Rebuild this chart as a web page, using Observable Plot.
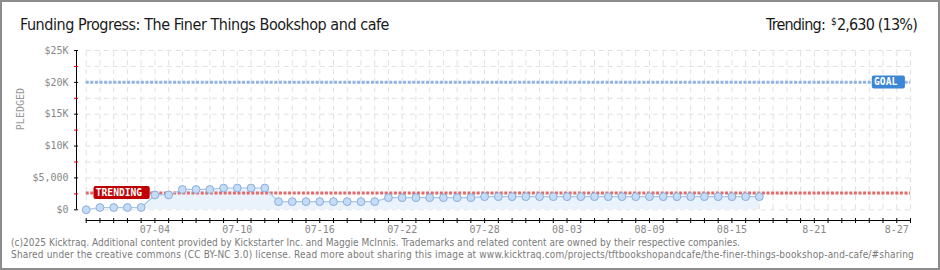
<!DOCTYPE html>
<html><head><meta charset="utf-8">
<script src="https://cdn.jsdelivr.net/npm/d3@7"></script>
<script src="https://cdn.jsdelivr.net/npm/@observablehq/plot@0.6"></script>
<style>
html,body{margin:0;padding:0;background:#fff;}
#wrap{position:relative;width:940px;height:270px;overflow:hidden;background:#fff;}
#border{position:absolute;left:0;top:0;width:940px;height:270px;box-sizing:border-box;border:2px solid #8c8c8c;pointer-events:none;}
.hdr{position:absolute;top:14.5px;line-height:20px;font-size:16px;font-family:"Liberation Sans Narrow","DejaVu Sans Condensed",sans-serif;color:#1a1a1a;white-space:nowrap;}
#title{left:20px;}
#trend{right:23px;}
#trend .cur{font-size:10px;position:relative;top:-5px;margin-left:6px;margin-right:1px;}
#chart{position:absolute;left:0;top:40px;}
.foot{position:absolute;left:11px;line-height:12px;font-size:10px;font-family:"DejaVu Sans Condensed","DejaVu Sans",sans-serif;color:#7a7a7a;white-space:nowrap;}
#f1{top:237px;}
#f2{top:249px;}
</style></head>
<body>
<div id="wrap">
  <div id="title" class="hdr"></div>
  <div id="trend" class="hdr"></div>
  <div id="chart"></div>
  <div id="f1" class="foot"></div>
  <div id="f2" class="foot"></div>
  <div id="border"></div>
</div>
<script>
// ---------- data ----------
const titleText = "Funding Progress: The Finer Things Bookshop and cafe";
const footer1 = "(c)2025 Kicktraq. Additional content provided by Kickstarter Inc. and Maggie McInnis. Trademarks and related content are owned by their respective companies.";
const footer2 = "Shared under the creative commons (CC BY-NC 3.0) license. Read more about sharing this image at www.kicktraq.com/projects/tftbookshopandcafe/the-finer-things-bookshop-and-cafe/#sharing";

const dates = [
  "2025-06-29","2025-06-30","2025-07-01","2025-07-02","2025-07-03","2025-07-04","2025-07-05",
  "2025-07-06","2025-07-07","2025-07-08","2025-07-09","2025-07-10","2025-07-11","2025-07-12",
  "2025-07-13","2025-07-14","2025-07-15","2025-07-16","2025-07-17","2025-07-18","2025-07-19",
  "2025-07-20","2025-07-21","2025-07-22","2025-07-23","2025-07-24","2025-07-25","2025-07-26",
  "2025-07-27","2025-07-28","2025-07-29","2025-07-30","2025-07-31","2025-08-01","2025-08-02",
  "2025-08-03","2025-08-04","2025-08-05","2025-08-06","2025-08-07","2025-08-08","2025-08-09",
  "2025-08-10","2025-08-11","2025-08-12","2025-08-13","2025-08-14","2025-08-15","2025-08-16",
  "2025-08-17"
];
const pledged = [
  0, 360, 360, 360, 360, 2330, 2330,
  3190, 3190, 3190, 3420, 3420, 3420, 3420,
  1280, 1280, 1280, 1280, 1280, 1280, 1280,
  1280, 1900, 1900, 1900, 1900, 1900, 1900,
  1900, 2060, 2060, 2060, 2060, 2060, 2060,
  2060, 2060, 2060, 2060, 2060, 2060, 2060,
  2060, 2060, 2060, 2060, 2060, 2060, 2060,
  2060
];
const goal = 20000;
const trending = 2630;

const axisStart = "2025-06-29";
const axisEnd = "2025-08-28";
const labelDates = ["2025-07-04","2025-07-10","2025-07-16","2025-07-22","2025-07-28","2025-08-03","2025-08-09","2025-08-15","2025-08-21","2025-08-27"];
const labelTexts = ["07-04","07-10","07-16","07-22","07-28","08-03","08-09","08-15","8-21","8-27"];
const yTicks = [0, 5000, 10000, 15000, 20000, 25000];
const yTickLabels = ["$0", "$5,000", "$10K", "$15K", "$20K", "$25K"];
const yMinor = [2500, 7500, 12500, 17500, 22500];
const yGrid = [0, 2500, 5000, 7500, 10000, 12500, 15000, 17500, 20000, 22500, 25000];
const yLabel = "PLEDGED";

// ---------- layout constants ----------
const DAY = 864e5;
const parse = d3.utcParse("%Y-%m-%d");
const day0 = parse(axisStart), dayEnd = parse(axisEnd);
const xLeftPad = 0.706;           // days between y-axis line and first day
const yMin = -1680;               // room below $0 for the x axis
const data = dates.map((d, i) => ({date: parse(d), value: pledged[i]}));
const tickDays = d3.utcDay.range(day0, new Date(+dayEnd + 1));
const labelMap = new Map(labelDates.map((d, i) => [+parse(d), labelTexts[i]]));
const yLabelMap = new Map(yTicks.map((v, i) => [v, yTickLabels[i]]));

document.getElementById("title").textContent = titleText;
document.getElementById("trend").innerHTML =
  `Trending:<span class="cur">$</span>${d3.format(",")(trending)} (${Math.round(trending / goal * 100)}%)`;
document.getElementById("f1").textContent = footer1;
document.getElementById("f2").textContent = footer2;

const mono = "'DejaVu Sans Mono', monospace";
const gridStyle = {stroke: "#e0e0e0", strokeDasharray: "5,4", strokeWidth: 1};

const chart = Plot.plot({
  width: 940, height: 195,
  marginLeft: 76, marginRight: 30, marginTop: 10, marginBottom: 15,
  x: {type: "utc", domain: [new Date(+day0 - xLeftPad * DAY), dayEnd]},
  y: {domain: [yMin, 25000]},
  style: {fontFamily: mono, fontSize: "10px", background: "transparent", color: "#888"},
  marks: [
    Plot.ruleY(yGrid, {y: d => d, x1: () => day0, x2: () => dayEnd, ...gridStyle}),
    Plot.ruleX(tickDays, {x: d => d, y1: 0, y2: 25000, ...gridStyle}),
    Plot.areaY(data, {x: "date", y: "value", fill: "#eaf2fc"}),
    Plot.ruleY([goal], {y: d => d, x1: () => day0, x2: () => dayEnd, stroke: "#8fb4e4", strokeWidth: 3, strokeDasharray: "3,1.6"}),
    Plot.ruleY([trending], {y: d => d, x1: () => day0, x2: () => dayEnd, stroke: "#e06a6a", strokeWidth: 3, strokeDasharray: "3,1.6"}),
    Plot.lineY(data, {x: "date", y: "value", stroke: "#a9c7ec", strokeWidth: 1.2}),
    Plot.dot(data, {x: "date", y: "value", r: 3.9, fill: "#c4dcf6", stroke: "#8cadd9", strokeWidth: 1}),
    // axes
    Plot.ruleX([new Date(+day0 - xLeftPad * DAY)], {x: d => d, y1: 0, y2: 25000, stroke: "#000"}),
    Plot.ruleY([yMin], {y: d => d, x1: () => day0, x2: () => dayEnd, stroke: "#000"}),
    Plot.axisX(tickDays, {tickSize: 5, dy: -2, tickFormat: () => "", stroke: "#000", label: null}),
    Plot.axisX(labelDates.map(parse), {tickSize: 0, tickPadding: 5, tickFormat: d => labelMap.get(+d), fill: "#888", label: null}),
    Plot.axisY(yTicks, {anchor: "left", tickSize: 4, dx: 2, tickPadding: 6, stroke: "#000", fill: "#888", tickFormat: d => yLabelMap.get(d), label: null}),
    Plot.axisY(yMinor, {anchor: "left", tickSize: 4, dx: 2, stroke: "#e00000", tickFormat: () => "", label: null}),
    Plot.text([12500], {y: d => d, frameAnchor: "left", dx: -56, rotate: -90, text: () => yLabel, fill: "#999", fontSize: 10}),
    // badges
    Plot.text([trending], {x: () => day0, y: d => d, text: () => "TRENDING", textAnchor: "start", dx: 9.6, fill: "#fff", fontWeight: "bold", fontSize: 9.6}),
    Plot.text([goal], {x: () => dayEnd, y: d => d, text: () => "GOAL", textAnchor: "end", dx: -13.3, fill: "#fff", fontWeight: "bold", fontSize: 9.6})
  ]
});
document.getElementById("chart").appendChild(chart);

// badge backgrounds sized to their text
const badgeColor = {"TRENDING": "#c00000", "GOAL": "#3c86d6"};
chart.querySelectorAll("text").forEach(t => {
  const c = badgeColor[t.textContent];
  if (!c) return;
  const b = t.getBBox();
  const r = document.createElementNS("http://www.w3.org/2000/svg", "rect");
  const cy = b.y + b.height / 2;
  r.setAttribute("x", b.x - 2.3);
  r.setAttribute("width", b.width + 2.3 + 7.5);
  r.setAttribute("y", cy - 6.5);
  r.setAttribute("height", 13);
  r.setAttribute("rx", 2);
  r.setAttribute("fill", c);
  if (t.getAttribute("transform")) r.setAttribute("transform", t.getAttribute("transform"));
  t.parentNode.insertBefore(r, t);
});

// fit text widths to reference measurements
function fit(id, target) {
  const el = document.getElementById(id);
  const w = el.getBoundingClientRect().width;
  const n = el.textContent.length;
  el.style.letterSpacing = ((target - w) / n) + "px";
}
fit("title", 369);
fit("trend", 151);
fit("f1", 729);
fit("f2", 903);
</script>
</body></html>
